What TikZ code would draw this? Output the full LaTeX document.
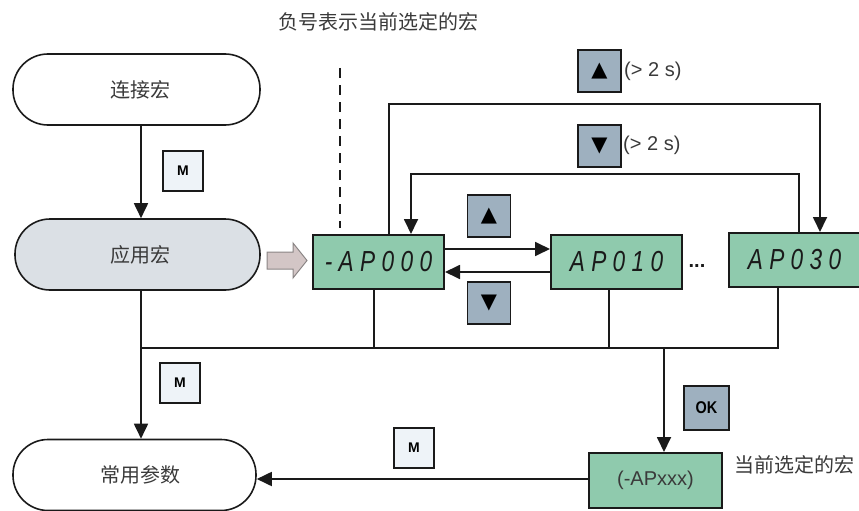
\documentclass[tikz,border=0pt]{standalone}
\usepackage{fontspec}
\setmainfont{Liberation Sans}
\newfontfamily\cjk{Noto Sans CJK SC}
\newfontfamily\segfont[LetterSpace=22,FakeStretch=0.78]{Liberation Sans}
\newfontfamily\okfont[FakeStretch=0.85]{Liberation Sans}
\newfontfamily\symfont{DejaVu Sans}
\usetikzlibrary{arrows.meta}
\definecolor{dispgreen}{HTML}{8FCAAD}
\definecolor{btngray}{HTML}{9EB0BF}
\definecolor{mfill}{HTML}{EEF3F8}
\definecolor{appfill}{HTML}{DBE0E5}
\definecolor{linec}{HTML}{1A1A1A}
\definecolor{textgray}{HTML}{3A3A3A}
\definecolor{blockfill}{HTML}{D3C6C6}
\definecolor{blockline}{HTML}{8A8585}
\begin{document}
\begin{tikzpicture}[x=1pt,y=-1pt,
  rbox/.style={draw=linec, rounded corners=35pt, minimum width=247pt, minimum height=71pt, inner sep=0pt,
    font=\cjk\fontsize{20}{20}\selectfont, text=textgray, line width=1.6pt},
  disp/.style={draw=linec, fill=dispgreen, minimum width=131pt, minimum height=54pt, line width=2pt, inner sep=0pt,
    font=\segfont\itshape\fontsize{29}{29}\selectfont, text=linec},
  mbtn/.style={draw=linec, fill=mfill, minimum size=40pt, inner sep=0pt, font=\bfseries\fontsize{14}{14}\selectfont, line width=1.6pt},
  gbtn/.style={draw=linec, fill=btngray, minimum width=43pt, minimum height=42pt, inner sep=0pt,
    font=\symfont\fontsize{21}{21}\selectfont, line width=1.6pt},
  conn/.style={draw=linec, line width=1.8pt},
  arr/.style={conn, -{Triangle[width=14pt,length=15pt]}},
  lbl/.style={inner sep=0pt, font=\fontsize{20}{20}\selectfont, text=textgray},
  cjklbl/.style={inner sep=0pt, font=\cjk\fontsize{20}{20}\selectfont, text=textgray}
]
\useasboundingbox (0,0) rectangle (859,511);

% title and dashed marker
\node[cjklbl] (title) at (378.5,22) {负号表示当前选定的宏};
\coordinate (dashtop) at (340,68);
\coordinate (dashbot) at (340,228);
\draw[linec, line width=1.8pt, dash pattern=on 10pt off 7pt] (dashtop) -- (dashbot);

% rounded boxes
\node[rbox, text width=247pt, align=center] (lj) at (136.5,89.5) {\hspace*{7pt}连接宏};
\node[rbox, fill=appfill, text width=245pt, minimum width=245pt, align=center] (yy) at (137.5,254.5) {\hspace*{7pt}应用宏};
\node[rbox, text width=243pt, minimum width=243pt, align=center] (cy) at (134.5,475) {\hspace*{12pt}常用参数};

% displays
\node[disp] (d0) at (378.5,262) {-AP000};
\node[disp] (d1) at (616.5,262) {AP010};
\node[disp] (d3) at (794.5,260) {AP030};
\node[inner sep=0pt, font=\bfseries\fontsize{20}{20}\selectfont, text=linec] (dots) at (697,266) {...};
\node[draw=linec, fill=dispgreen, minimum width=133pt, minimum height=55pt, line width=2pt, inner sep=0pt,
  font=\fontsize{20}{20}\selectfont, text=textgray] (ap) at (655.5,480.5) {(-APxxx)};
\node[cjklbl, anchor=west] (cur) at (734,465) {当前选定的宏};

% block arrow
\draw[fill=blockfill, draw=blockline, line width=1pt]
  (267,252) -- (293,252) -- (293,243) -- (307,260.5) -- (293,278) -- (293,269) -- (267,269) -- cycle;

% buttons
\node[mbtn] (m1) at (183,171) {M};
\node[mbtn] (m2) at (180,383) {M};
\node[mbtn] (m3) at (414,448) {M};
\node[gbtn] (up1) at (489,216) {▲};
\node[gbtn] (dn1) at (489,303) {▼};
\node[gbtn] (upL) at (599.5,71) {▲};
\node[gbtn] (dnL) at (599.5,146) {▼};
\node[gbtn, minimum width=45pt, minimum height=44pt, font=\okfont\bfseries\fontsize{17}{17}\selectfont] (ok) at (706.5,408) {OK};
\node[lbl, anchor=west] (t2s1) at (624,71) {(> 2 s)};
\node[lbl, anchor=west] (t2s2) at (623,145) {(> 2 s)};

% vertical main flow
\coordinate (b0) at (141,348);
\draw[arr] (lj.south -| b0) -- (yy.north -| b0);
\draw[arr] (yy.south -| b0) -- (cy.north -| b0);

% display stepping
\draw[arr] ([yshift=13pt]d0.east) -- ([yshift=13pt]d1.west);
\draw[arr] ([yshift=-10pt]d1.west) -- ([yshift=-10pt]d0.east);

% long loops
\coordinate (t1) at (389,104);
\coordinate (t2) at (820,104);
\draw[arr] (d0.north -| t1) -- (t1) -- (t2) -- (d3.north -| t2);
\coordinate (u1) at (799,174);
\coordinate (u2) at (411,174);
\draw[arr] (d3.north -| u1) -- (u1) -- (u2) -- (d0.north -| u2);

% bus
\coordinate (c0) at (374,348);
\coordinate (c1) at (609,348);
\coordinate (b3) at (778,348);
\coordinate (k) at (664,348);
\draw[conn] (b0) -- (b3) -- (d3.south -| b3);
\draw[conn] (d0.south -| c0) -- (c0);
\draw[conn] (d1.south -| c1) -- (c1);
\draw[arr] (k) -- (ap.north -| k);
\draw[arr] ([yshift=1.5pt]ap.west) -- ([yshift=1.5pt]ap.west -| cy.east);
\end{tikzpicture}
\end{document}
